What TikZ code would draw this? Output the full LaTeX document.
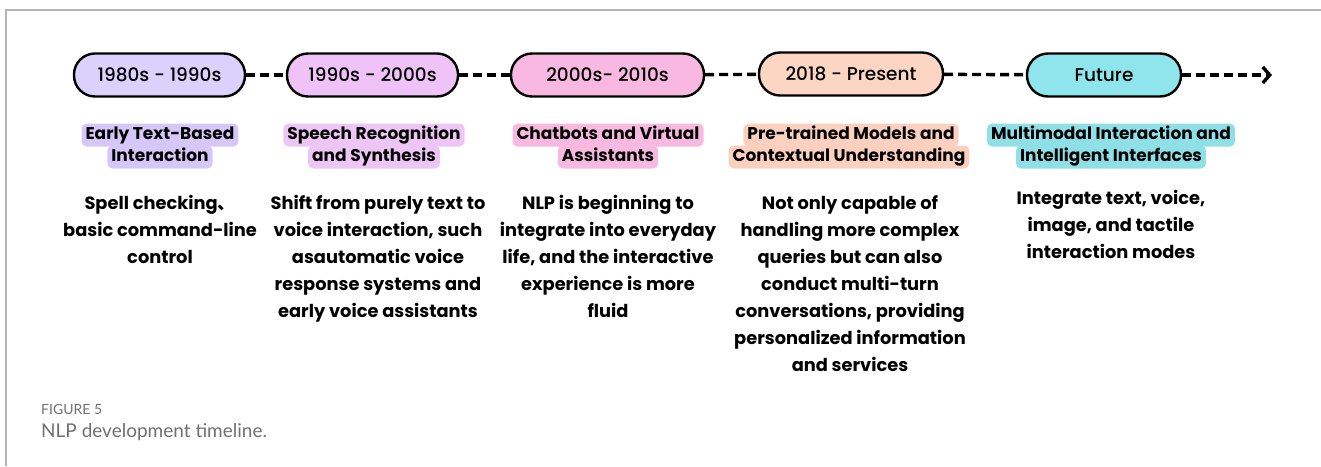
\documentclass[tikz,border=0pt]{standalone}
\usepackage{fontspec}
\setmainfont{Poppins}
\newfontfamily\medio{Poppins Medium}
\newfontfamily\cjk{Noto Sans CJK SC}
\newfontfamily\capfont{Lato}
\usepackage{tikz}
\usetikzlibrary{positioning,calc}
\usetikzlibrary{arrows.meta}
\definecolor{viola}{HTML}{DCD0FC}
\definecolor{violatema}{HTML}{D7C7F8}
\definecolor{orchidea}{HTML}{EFC3F7}
\definecolor{orchideatema}{HTML}{EEC6F5}
\definecolor{rosa}{HTML}{F9B8E2}
\definecolor{rosatema}{HTML}{F8B9E0}
\definecolor{pesca}{HTML}{FCD5C3}
\definecolor{pescatema}{HTML}{FBD0BF}
\definecolor{ciano}{HTML}{8EE5EB}
\definecolor{cianotema}{HTML}{8EE0E6}
\definecolor{cornice}{HTML}{B4B4B4}
\definecolor{didascalia}{HTML}{707070}
\tikzstyle{epoca} = [rectangle, rounded corners=21pt, minimum height=43pt, text centered, draw=black, line width=2.4pt, font=\medio\fontsize{18.5}{22}\selectfont]
\tikzstyle{tema} = [rectangle, rounded corners=5pt, minimum height=23pt, inner xsep=4pt, inner ysep=0pt, text height=12.5pt, text depth=3.5pt, text centered, font=\fontsize{17}{20}\selectfont\bfseries]
\tikzstyle{testo} = [align=center, anchor=north, inner sep=0pt, font=\fontsize{17.8}{27}\selectfont\bfseries]
\tikzstyle{trattino} = [line width=3.4pt, dash pattern=on 9pt off 5pt]
\tikzstyle{arrow} = [trattino, -{Straight Barb[length=7pt,width=16pt]}]

\begin{document}
\begin{tikzpicture}[x=1pt,y=-1pt]
	\useasboundingbox (0,0) rectangle (1321,466);
	\draw[cornice, line width=2pt] (6,466) -- (6,10) -- (1321,10);
	% periodi
	\node (e1) at (159.5,75) [epoca, fill=viola, minimum width=171pt] {1980s - 1990s};
	\node (e2) at (372.5,75) [epoca, fill=orchidea, minimum width=171pt] {1990s - 2000s};
	\node (e3) at (607.5,75) [epoca, fill=rosa, minimum width=193pt] {2000s- 2010s};
	\node (e4) at (851,74) [epoca, fill=pesca, minimum width=184pt] {2018 - Present};
	\node (e5) at (1104,75) [epoca, fill=ciano, minimum width=154pt] {Future};
	\coordinate (fine) at (1272,75);
	\draw[trattino] (e1) -- (e2);
	\draw[trattino] (e2) -- (e3);
	\draw[trattino] (e3) -- (e4);
	\draw[trattino] (e4) -- (e5);
	\draw[arrow] (e5) -- (fine);
	% temi
	\node (t1a) at (160,135) [tema, fill=violatema] {Early Text-Based};
	\node (t1b) at (160,157) [tema, fill=violatema] {Interaction};
	\node (t2a) at (374,135) [tema, fill=orchideatema] {Speech Recognition};
	\node (t2b) at (374,157) [tema, fill=orchideatema] {and Synthesis};
	\node (t3a) at (608,135) [tema, fill=rosatema] {Chatbots and Virtual};
	\node (t3b) at (608,157) [tema, fill=rosatema] {Assistants};
	\node (t4a) at (851,135) [tema, fill=pescatema] {Pre-trained Models and};
	\node (t4b) at (849,157) [tema, fill=pescatema] {Contextual Understanding};
	\node (t5a) at (1111,135) [tema, fill=cianotema] {Multimodal Interaction and};
	\node (t5b) at (1111,157) [tema, fill=cianotema] {Intelligent Interfaces};
	% descrizioni
	\node (d1) at (160,195) [testo] {Spell checking{\cjk 、}\\basic command-line\\control};
	\node (d2) at (378,195) [testo] {Shift from purely text to\\voice interaction, such\\asautomatic voice\\response systems and\\early voice assistants};
	\node (d3) at (608,195) [testo] {NLP is beginning to\\integrate into everyday\\life, and the interactive\\experience is more\\fluid};
	\node (d4) at (850,195) [testo] {Not only capable of\\handling more complex\\queries but can also\\conduct multi-turn\\conversations, providing\\personalized information\\and services};
	\node (d5) at (1111,190) [testo] {Integrate text, voice,\\image, and tactile\\interaction modes};
	% didascalia
	\node (fig) at (41,409) [anchor=west, inner sep=0pt, text=didascalia, font=\capfont\fontsize{14}{16}\selectfont] {FIGURE 5};
	\node (cap) at (41,432) [anchor=west, inner sep=0pt, text=didascalia, font=\capfont\fontsize{19}{22}\selectfont] {NLP development timeline.};
\end{tikzpicture}
\end{document}
